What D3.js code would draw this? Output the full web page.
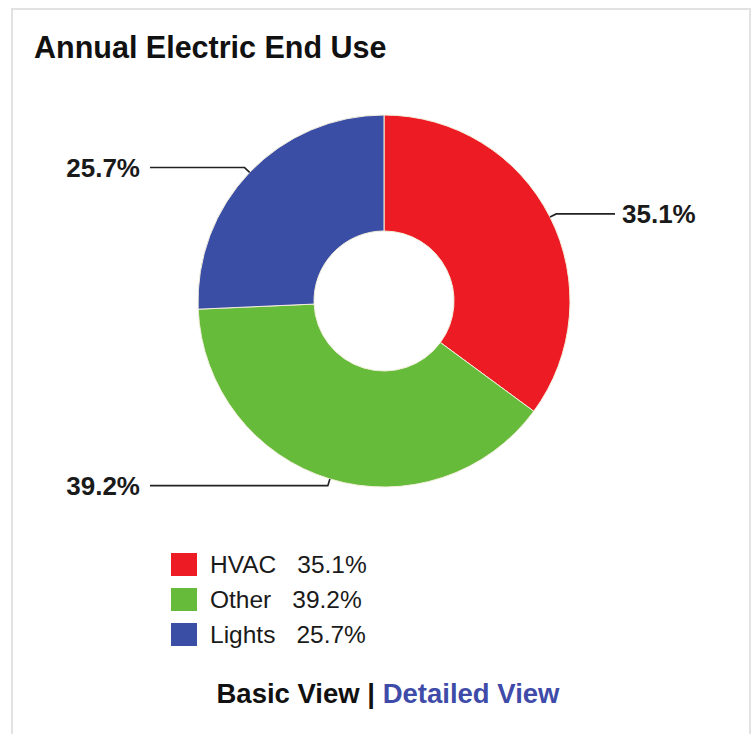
<!DOCTYPE html>
<html>
<head>
<meta charset="utf-8">
<script src="https://cdn.jsdelivr.net/npm/d3@7"></script>
<style>
  html, body { margin: 0; padding: 0; background: #fff; }
  #chart { width: 752px; height: 734px; }
  text { font-family: "Liberation Sans", Arial, sans-serif; }
</style>
</head>
<body>
<div id="chart"></div>
<script>
// End use data, clockwise from 12 o'clock
const categories = ["HVAC", "Other", "Lights"]
const shares = [35.1, 39.2, 25.7]
const colors = ["#ed1c24", "#66bb3b", "#3b4ea6"]

const width = 752
const height = 734
const cx = 384, cy = 301
const outerR = 186, innerR = 70

const svg = d3.select("#chart").append("svg")
  .attr("width", width)
  .attr("height", height)

// Panel frame
svg.append("rect")
  .attr("x", 12).attr("y", 9)
  .attr("width", 738).attr("height", 740)
  .attr("fill", "#fff")
  .attr("stroke", "#e2e2e2").attr("stroke-width", 2)

svg.append("text")
  .attr("x", 34).attr("y", 58)
  .attr("font-size", 30.5).attr("font-weight", "bold")
  .attr("fill", "#111")
  .text("Annual Electric End Use")

const data = categories.map((c, i) => ({ name: c, value: shares[i], color: colors[i] }))

const pie = d3.pie().sort(null).value(d => d.value)
const arcs = pie(data)

const arc = d3.arc().innerRadius(innerR).outerRadius(outerR)

const g = svg.append("g").attr("transform", `translate(${cx},${cy})`)

g.selectAll("path.slice")
  .data(arcs)
  .enter().append("path")
  .attr("class", "slice")
  .attr("d", arc)
  .attr("fill", d => d.data.color)
  .attr("stroke", "#f3efdc").attr("stroke-width", 1)

// Leader lines + labels
const edge = d3.arc().innerRadius(outerR).outerRadius(outerR)
const elbow = d3.arc().innerRadius(outerR + 7).outerRadius(outerR + 7)
const leftLineEnd = 150 - cx
const rightLineEnd = 615 - cx

arcs.forEach(a => {
  const mid = (a.startAngle + a.endAngle) / 2
  const p0 = edge.centroid(a)
  const p1 = elbow.centroid(a)
  const right = mid < Math.PI
  const xEnd = right ? rightLineEnd : leftLineEnd
  g.append("polyline")
    .attr("points", [p0, p1, [xEnd, p1[1]]].map(p => p.join(",")).join(" "))
    .attr("fill", "none")
    .attr("stroke", "#222").attr("stroke-width", 1.6)
  g.append("text")
    .attr("x", right ? xEnd + 7 : xEnd - 10)
    .attr("y", p1[1] + 9)
    .attr("text-anchor", right ? "start" : "end")
    .attr("font-size", 26).attr("font-weight", "bold")
    .attr("fill", "#1a1a1a")
    .text(a.data.value.toFixed(1) + "%")
})

// Legend
const legend = svg.append("g").attr("transform", "translate(171,553)")
data.forEach((d, i) => {
  const row = legend.append("g").attr("transform", `translate(0,${i * 35})`)
  row.append("rect")
    .attr("width", 26).attr("height", 23)
    .attr("fill", d.color)
  const t = row.append("text")
    .attr("x", 39).attr("y", 20)
    .attr("font-size", 24.5)
    .attr("fill", "#1a1a1a")
  t.append("tspan").text(d.name)
  t.append("tspan").attr("dx", 21).text(d.value.toFixed(1) + "%")
})

// View links
const links = svg.append("text")
  .attr("x", 388).attr("y", 703)
  .attr("text-anchor", "middle")
  .attr("font-size", 27.5).attr("font-weight", "bold")
links.append("tspan").attr("fill", "#111").text("Basic View ")
links.append("tspan").attr("fill", "#111").text("|")
links.append("tspan").attr("fill", "#3f4ba8").text(" Detailed View")
</script>
</body>
</html>
